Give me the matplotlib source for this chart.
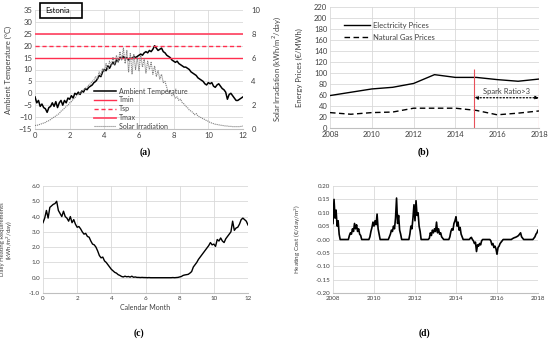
import numpy as np
import matplotlib
matplotlib.use("Agg")
import matplotlib.pyplot as plt
from matplotlib.patches import Rectangle

plt.rcParams["font.family"] = ["Lato", "DejaVu Sans"]

# ---- (a) ambient temperature / solar irradiation, sampled every 0.1 month
MONTH_STEP = 0.1
ambient_temp = [
    -1.5, -4, -3, -5.5, -4.5, -6, -6.5, -8, -6, -5.5,
    -4, -5.5, -3.5, -6, -4, -3, -5, -3, -4, -2,
    -2.5, -1, -2, 0, -0.5, 0.5, -0.5, 1, 0.5, 2,
    1.5, 2.5, 3, 3.5, 4.5, 5, 6, 7.5, 7, 9,
    10, 9.5, 11.5, 10.5, 12, 13, 12, 14, 13.5, 15,
    14.5, 15.5, 14.5, 15, 14, 15, 14.5, 15.5, 15, 15.5,
    16, 16.5, 16, 17, 17.5, 17, 18, 17.5, 18.5, 20,
    19, 18, 18.5, 19, 17.5, 17, 16, 15.5, 15, 14,
    13.5, 13, 13.5, 12.5, 12, 11.5, 11, 11, 10.5, 10,
    9, 8.5, 8, 7.5, 6.5, 6, 5.5, 5, 4, 3.5,
    4.5, 4, 4.5, 3, 2.5, 3.5, 4, 3, 2, 1.5,
    0.5, -2.5, -0.5, 0, -1, -2, -3, -3, -2.5, -2,
    -1.5,
]
solar_irr = [
    0.3, 0.3, 0.35, 0.4, 0.45, 0.5, 0.55, 0.65, 0.7, 0.8,
    0.9, 1.0, 1.1, 1.2, 1.3, 1.5, 1.6, 1.75, 1.9, 2.0,
    2.2, 2.3, 2.5, 2.6, 2.8, 2.9, 3.0, 3.2, 3.3, 3.4,
    3.5, 3.7, 3.8, 4.0, 4.1, 4.4, 4.2, 4.8, 4.5, 5.1,
    4.8, 5.5, 5.0, 5.7, 5.3, 6.0, 5.4, 6.2, 5.6, 6.5,
    5.8, 6.8, 5.5, 6.6, 4.8, 6.4, 4.6, 6.3, 5.0, 6.0,
    4.9, 6.2, 5.2, 5.9, 4.7, 5.7, 5.0, 5.6, 4.6, 5.3,
    4.4, 4.9, 4.2, 4.6, 3.9, 4.0, 3.5, 3.0, 3.2, 2.8,
    2.9, 2.6, 2.7, 2.4, 2.5, 2.2, 2.1, 1.9, 1.8, 1.6,
    1.5, 1.4, 1.2, 1.3, 1.1, 1.0, 0.95, 0.85, 0.8, 0.7,
    0.65, 0.55, 0.5, 0.45, 0.4, 0.38, 0.35, 0.32, 0.3, 0.28,
    0.25, 0.25, 0.22, 0.22, 0.2, 0.2, 0.2, 0.2, 0.2, 0.22,
    0.25,
]
t_min, t_sp, t_max = 15, 20, 25

# ---- (b) annual energy prices
years = [2008, 2009, 2010, 2011, 2012, 2013, 2014, 2015, 2016, 2017, 2018]
elec_price = [59, 65, 71, 74, 81, 97, 92, 92, 88, 85, 89]
gas_price = [28, 25, 28, 29, 36, 36, 36, 32, 24, 27, 31]
spark_start, spark_end = 2014.9, 2018.0

# ---- (c) daily heating requirement, every 0.1 month
heating_req = [
    3.6, 3.9, 4.4, 3.9, 4.6, 4.7, 4.8, 4.85, 5.0, 4.4,
    4.2, 4.0, 4.35, 4.0, 3.9, 3.7, 4.0, 3.6, 3.8, 3.5,
    3.3, 3.35, 3.2, 3.0, 2.85, 2.9, 2.7, 2.65, 2.4, 2.2,
    2.15, 2.0, 1.75, 1.45, 1.3, 1.35, 1.1, 1.0, 0.85, 0.7,
    0.55, 0.45, 0.35, 0.3, 0.2, 0.15, 0.08, 0.05, 0.1, 0.06,
    0.08, 0.04, 0.1, 0.03, 0.05, 0.02, 0.02, 0.01, 0.02, 0.01,
    0.01, 0.0, 0.01, 0.0, 0.0, 0.0, 0.0, 0.0, 0.0, 0.0,
    0.0, 0.0, 0.0, 0.0, 0.0, 0.0, 0.01, 0.0, 0.01, 0.02,
    0.05, 0.08, 0.15, 0.18, 0.2, 0.22, 0.3, 0.4, 0.7, 0.85,
    1.0, 1.2, 1.35, 1.5, 1.65, 1.8, 1.95, 2.1, 2.3, 2.15,
    2.2, 2.05, 2.5, 2.4, 2.6, 2.4, 2.3, 2.55, 2.7, 2.85,
    3.0, 3.7, 3.1, 3.25, 3.3, 3.5, 3.8, 3.9, 3.8, 3.7,
    3.45,
]

# ---- (d) heating cost, every 0.05 year from 2008
YEAR_STEP = 0.05
heating_cost = [
    0.06, 0.15, 0.08, 0.11, 0.05, 0.07, 0.02, 0.0, 0.0, 0.0, 0.0, 0.0, 0.0, 0.0, 0.0, 0.0, 0.015, 0.025, 0.02, 0.04,
    0.03, 0.06, 0.04, 0.055, 0.03, 0.04, 0.02, 0.015, 0.0, 0.0, 0.0, 0.0, 0.0, 0.0, 0.0, 0.0, 0.01, 0.03, 0.045, 0.065,
    0.05, 0.07, 0.055, 0.095, 0.04, 0.02, 0.0, 0.0, 0.0, 0.0, 0.0, 0.0, 0.0, 0.0, 0.0, 0.01, 0.02, 0.035, 0.03, 0.05,
    0.04, 0.08, 0.155, 0.06, 0.09, 0.035, 0.02, 0.0, 0.0, 0.0, 0.0, 0.0, 0.0, 0.0, 0.0, 0.02, 0.05, 0.04, 0.08, 0.13,
    0.07, 0.145, 0.09, 0.1, 0.05, 0.03, 0.0, 0.0, 0.0, 0.0, 0.0, 0.0, 0.0, 0.0, 0.005, 0.025, 0.015, 0.035, 0.025, 0.04,
    0.03, 0.065, 0.025, 0.04, 0.02, 0.025, 0.01, 0.005, 0.0, 0.0, 0.0, 0.0, 0.0, 0.0, 0.01, 0.03, 0.04, 0.035, 0.06, 0.07,
    0.085, 0.05, 0.065, 0.035, 0.045, 0.02, 0.01, 0.0, 0.0, 0.0, 0.0, 0.0, 0.0, 0.0, 0.005, 0.008, 0.0, -0.005, -0.015, -0.01,
    -0.045, -0.02, -0.025, -0.015, -0.02, -0.005, 0.0, 0.0, 0.0, 0.0, 0.0, 0.0, 0.0, 0.0, -0.005, -0.02, -0.015, -0.03, -0.025, -0.035,
    -0.055, -0.03, -0.025, -0.015, -0.01, -0.005, 0.0, 0.0, 0.0, 0.0, 0.0, 0.0, 0.0, 0.0, 0.0, 0.003, 0.005, 0.007, 0.008, 0.01,
    0.012, 0.015, 0.02, 0.025, 0.01, 0.005, 0.0, 0.0, 0.0, 0.0, 0.0, 0.0, 0.0, 0.0, 0.0, 0.0, 0.005, 0.01, 0.02, 0.025,
    0.035,
]

GRID = "#d9d9d9"
TXT = "#404040"
RED = "#ff2f4f"


def excel_style(ax, fs):
    for side in ("top", "right", "left"):
        ax.spines[side].set_visible(False)
    ax.spines["bottom"].set_color("#bfbfbf")
    ax.grid(True, color=GRID, lw=0.6)
    ax.set_axisbelow(True)
    ax.tick_params(length=0, labelsize=fs, colors=TXT, pad=2)


W, H = 550, 341
fig = plt.figure(figsize=(W / 100, H / 100), dpi=100)


def box(l, t, r, b):
    return [l / W, (H - b) / H, (r - l) / W, (b - t) / H]


# ---------------- (a)
ax = fig.add_axes(box(35, 10, 243, 129))
m = np.arange(len(ambient_temp)) * MONTH_STEP
excel_style(ax, 5.5)
ax.plot(m, ambient_temp, color="black", lw=1.1, label="Ambient Temperature")
ax.axhline(t_min, color=RED, lw=1.0, label="Tmin")
ax.axhline(t_sp, color=RED, lw=1.0, ls=(0, (3, 2)), label="Tsp")
ax.axhline(t_max, color="#ff4d6a", lw=1.3, label="Tmax")
ax.set_xlim(0, 12)
ax.set_ylim(-15, 35)
ax.set_xticks(range(0, 13, 2))
ax.set_yticks(range(-15, 36, 5))
ax.set_ylabel("Ambient Temperature (\u00b0C)", fontsize=5.5, color=TXT)
ax.yaxis.set_label_coords(-0.11, 0.5)
ax2 = ax.twinx()
for side in ("top", "right", "left", "bottom"):
    ax2.spines[side].set_visible(False)
ax2.plot(m, solar_irr, color="#7f7f7f", lw=0.8, ls=(0, (1, 0.8)), label="Solar Irradiation")
ax2.set_ylim(0, 10)
ax2.set_yticks(range(0, 11, 2))
ax2.tick_params(length=0, labelsize=5.5, colors=TXT, pad=6)
ax2.set_ylabel("Solar Irradiation (kWh/m$^2$/day)", fontsize=5.5, color=TXT)
ax2.yaxis.set_label_coords(1.13, 0.5)
h1, l1 = ax.get_legend_handles_labels()
h2, l2 = ax2.get_legend_handles_labels()
ax2.legend(h1 + h2, l1 + l2, loc="upper left", bbox_to_anchor=(0.27, 0.37),
           frameon=False, fontsize=5, handlelength=3.2, labelspacing=0.25,
           borderaxespad=0, handletextpad=0.4, labelcolor=TXT)
fig.patches.append(Rectangle((40 / W, (H - 18) / H), 42 / W, 15 / H,
                             transform=fig.transFigure, fill=False,
                             ec="black", lw=1.2))
fig.text(45 / W, (H - 10.5) / H, "Estonia", fontsize=5.5, va="center", color="black")

# ---------------- (b)
bx = fig.add_axes(box(330, 7, 539, 128))
excel_style(bx, 5.5)
bx.plot(years, elec_price, color="black", lw=1.0, label="Electricity Prices")
bx.plot(years, gas_price, color="black", lw=1.0, ls=(0, (4, 2.5)), label="Natural Gas Prices")
bx.vlines([spark_start, spark_end], 0, 108, color="#e8505a", lw=0.8)
bx.annotate("", xy=(spark_start, 55), xytext=(spark_end, 55),
            arrowprops=dict(arrowstyle="<|-|>", ls=":", lw=0.9, color="black",
                            mutation_scale=5, shrinkA=0, shrinkB=0))
bx.text((spark_start + spark_end) / 2, 60, "Spark Ratio>3", fontsize=5.5,
        ha="center", va="bottom", color=TXT)
bx.set_xlim(2008, 2018)
bx.set_ylim(0, 220)
bx.set_xticks(range(2008, 2019, 2))
bx.set_yticks(range(0, 221, 20))
bx.set_ylabel("Energy Prices (\u20ac/MWh)", fontsize=5.5, color=TXT)
bx.yaxis.set_label_coords(-0.13, 0.5)
bx.legend(loc="upper left", bbox_to_anchor=(0.05, 0.9), frameon=False, fontsize=5.5,
          handlelength=3.5, labelspacing=0.6, borderaxespad=0, handletextpad=0.3,
          labelcolor=TXT)

# ---------------- (c)
cx = fig.add_axes(box(43, 186, 248, 293))
excel_style(cx, 4.5)
cx.plot(np.arange(len(heating_req)) * MONTH_STEP, heating_req, color="black", lw=1.0)
cx.set_xlim(0, 12)
cx.set_ylim(-1, 6)
cx.set_xticks(range(0, 13, 2))
cx.set_yticks(np.arange(-1, 6.1, 1))
cx.yaxis.set_major_formatter(matplotlib.ticker.FormatStrFormatter("%.1f"))
cx.set_xlabel("Calendar Month", fontsize=5, color=TXT, labelpad=2)
cx.set_ylabel("Daily Heating Requirements\n(kWh/m$^2$/day)", fontsize=4.3, color=TXT,
              linespacing=1.0)
cx.yaxis.set_label_coords(-0.135, 0.5)

# ---------------- (d)
dx = fig.add_axes(box(333, 186, 538, 293))
excel_style(dx, 4.5)
dx.plot(2008 + np.arange(len(heating_cost)) * YEAR_STEP, heating_cost, color="black", lw=1.2)
dx.set_xlim(2008, 2018)
dx.set_ylim(-0.2, 0.2)
dx.set_xticks(range(2008, 2019, 2))
dx.set_yticks(np.arange(-0.2, 0.201, 0.05))
dx.yaxis.set_major_formatter(matplotlib.ticker.FormatStrFormatter("%.2f"))
dx.set_ylabel("Heating Cost (\u20ac/day/m$^2$)", fontsize=4.5, color=TXT)
dx.yaxis.set_label_coords(-0.145, 0.5)

for x, y, s in [(145, 152, "(a)"), (424, 152, "(b)"), (139, 333, "(c)"), (424, 333, "(d)")]:
    fig.text(x / W, (H - y) / H, s, fontsize=7, fontweight="bold",
             family="Liberation Serif", ha="center", va="center")

fig.savefig("out.png", dpi=100)
